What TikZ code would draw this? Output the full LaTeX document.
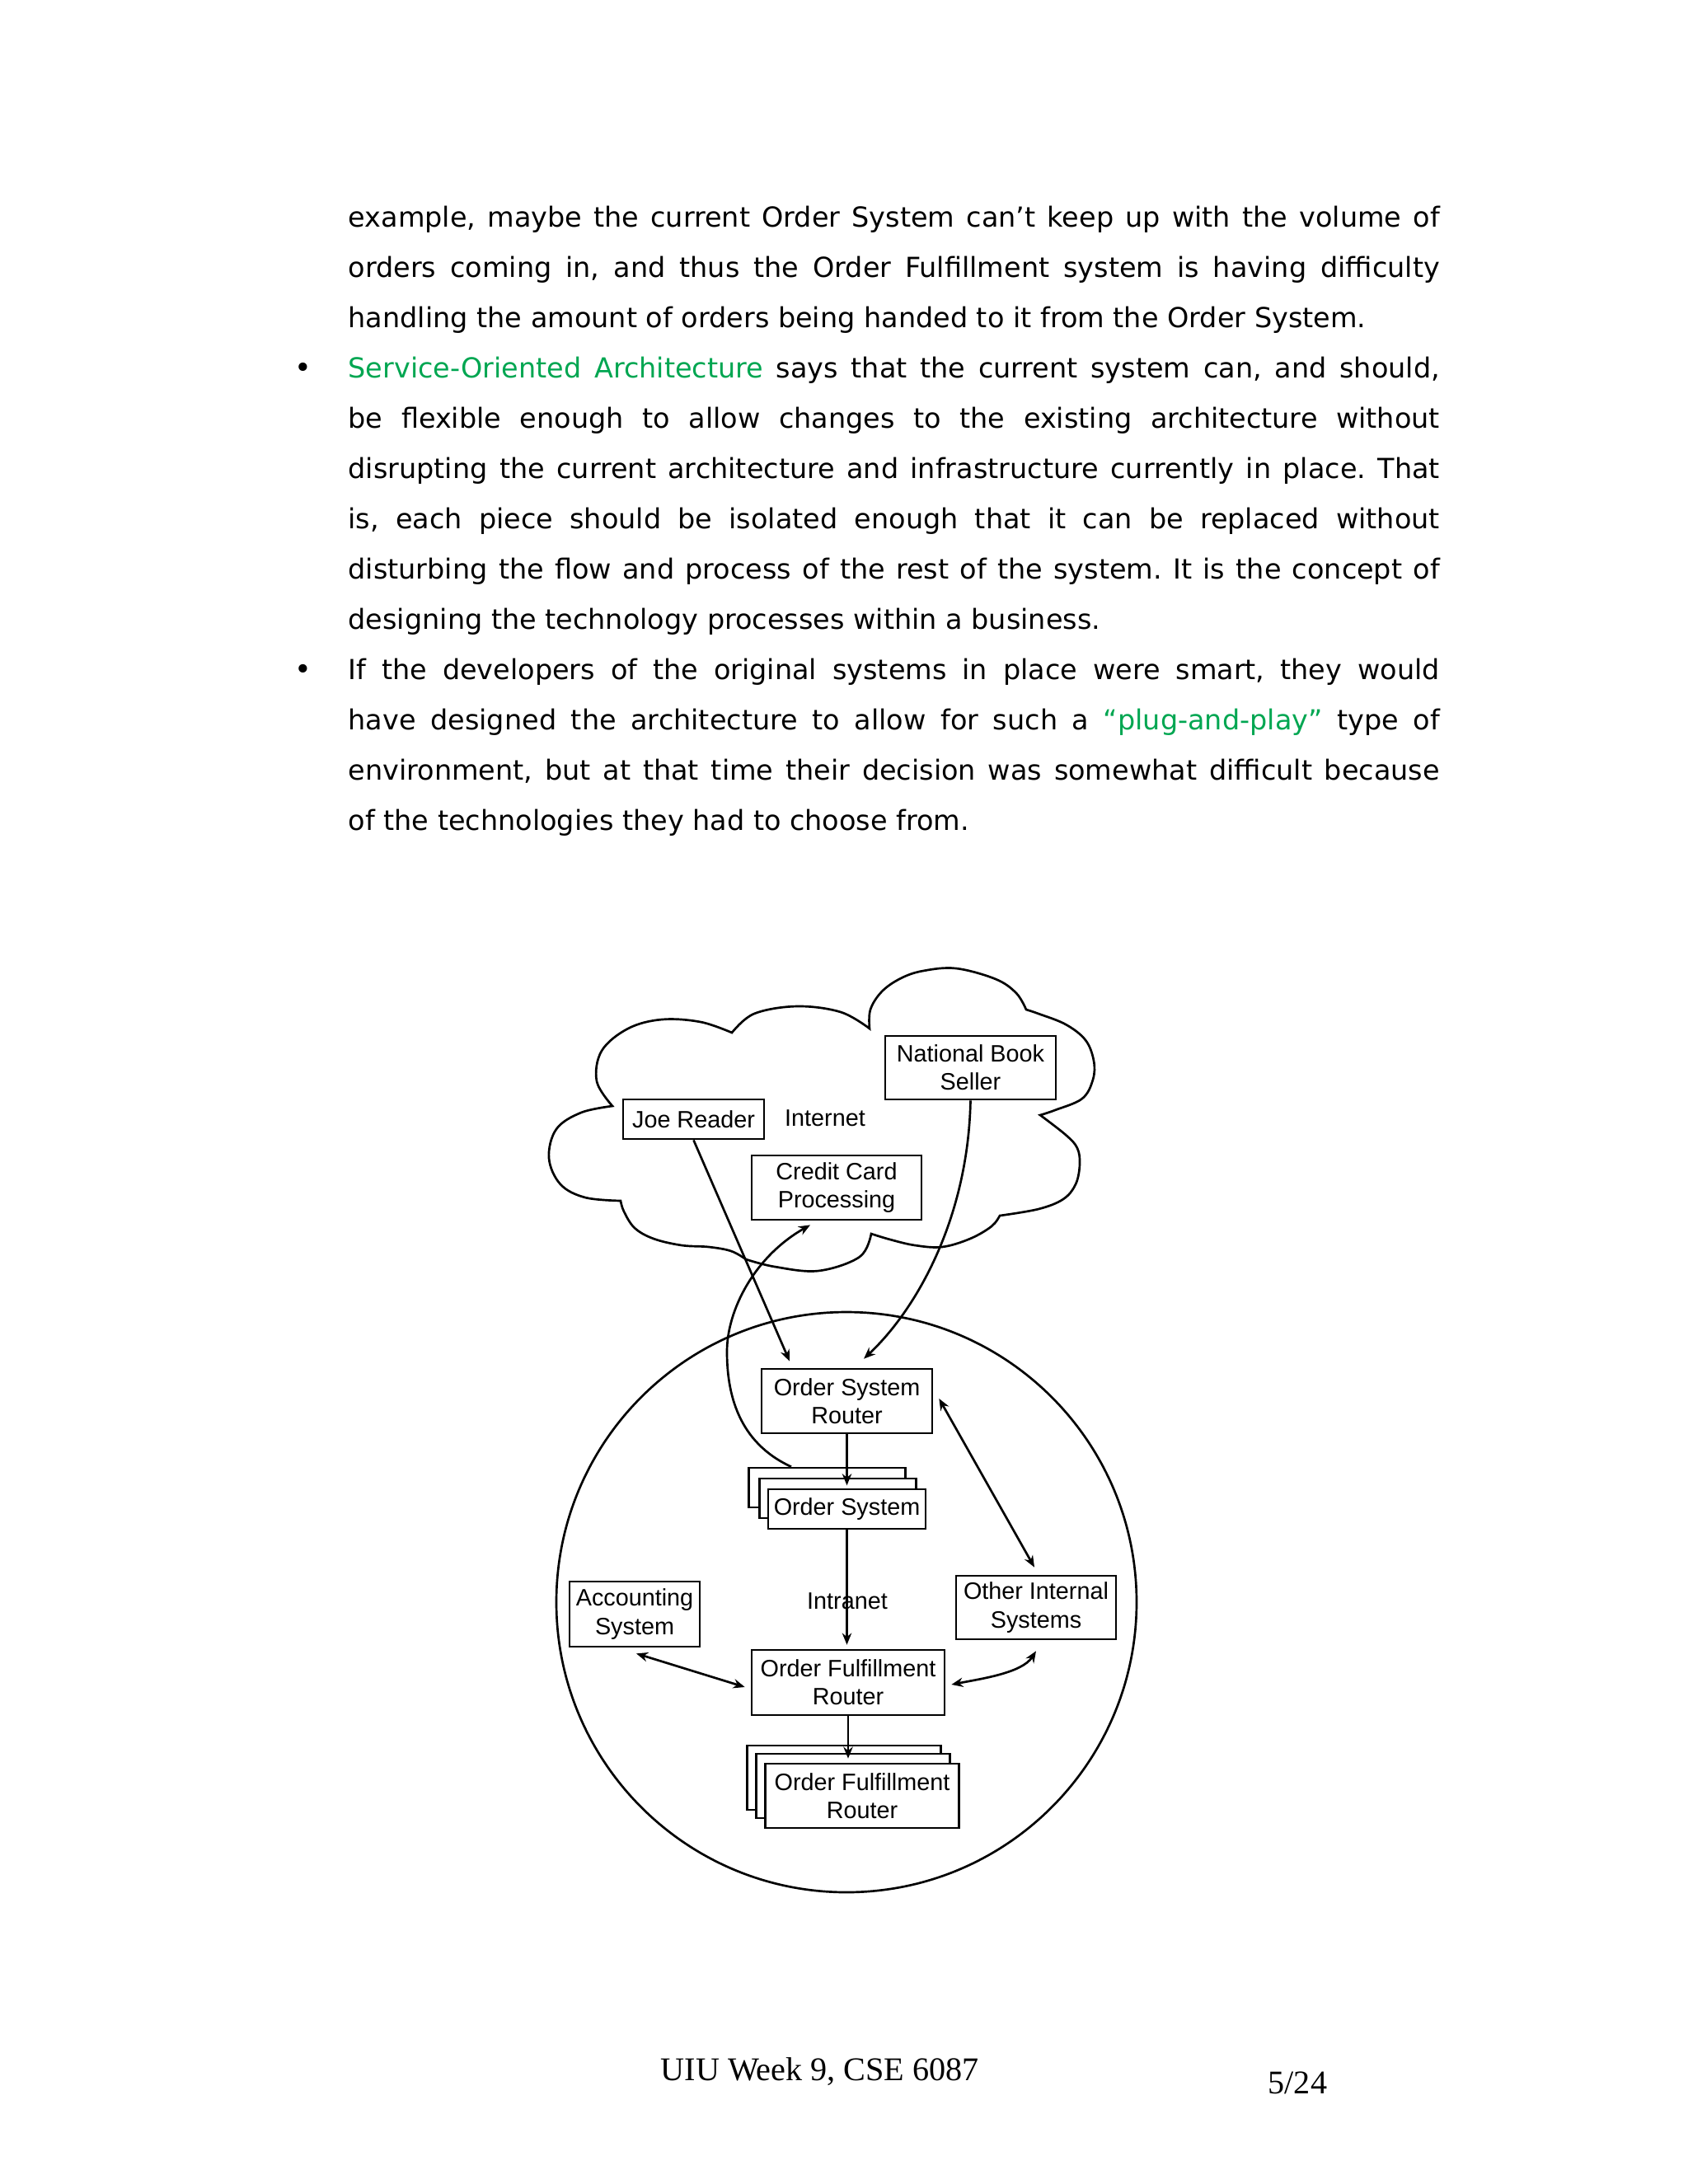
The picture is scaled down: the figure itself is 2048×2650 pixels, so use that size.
\documentclass[tikz,border=0pt]{standalone}
\usepackage{fontspec}
\usepackage{graphicx}
\usetikzlibrary{arrows.meta,calc}
\newfontfamily\bodyfont{DejaVu Sans}
\newfontfamily\diagfont{Liberation Sans}
\newfontfamily\footfont{Liberation Serif}
\definecolor{soagreen}{RGB}{0,166,81}
\frenchspacing
\newlength\jw \setlength\jw{395.7pt}
\newsavebox\jbox
\newcommand\jline[1]{\sbox\jbox{#1}\ifdim\wd\jbox>\jw\resizebox{\jw}{!}{\usebox\jbox}\else\makebox[\jw][s]{#1}\fi}
\begin{document}
\begin{tikzpicture}[x=0.29883pt,y=-0.29883pt,
  bodytxt/.style={anchor=base west,inner sep=0pt,font=\bodyfont\fontsize{10}{12}\selectfont},
  bullettxt/.style={anchor=base,inner sep=0pt,font=\bodyfont\fontsize{10.5}{12}\selectfont},
  foottxt/.style={anchor=base west,inner sep=0pt,font=\footfont\fontsize{12}{14}\selectfont},
  dline/.style={line width=0.8pt,black},
  box/.style={draw,line width=0.8pt,fill=white,inner sep=0pt,align=center,
    font=\diagfont\fontsize{8.6}{10.2}\selectfont},
  lbl/.style={inner sep=0pt,font=\diagfont\fontsize{8.6}{10.2}\selectfont},
  arr/.style={dline,-{Stealth[length=4.2pt,width=3.4pt]}},
  darr/.style={dline,{Stealth[length=4.2pt,width=3.4pt]}-{Stealth[length=4.2pt,width=3.4pt]}}]
\useasboundingbox (0,0) rectangle (2048,2650);
% ---------------- body text ----------------
\node[bodytxt] (l1) at (422,275) {\jline{example, maybe the current Order System can’t keep up with the volume of}};
\node[bodytxt] (l2) at (422,336) {\jline{orders coming in, and thus the Order Fulfillment system is having difficulty}};
\node[bodytxt] (l3) at (422,397) {handling the amount of orders being handed to it from the Order System.};
\node[bullettxt] (b1) at (368,458) {•};
\node[bodytxt] (l4) at (422,458) {\jline{\textcolor{soagreen}{Service-Oriented Architecture} says that the current system can, and should,}};
\node[bodytxt] (l5) at (422,519) {\jline{be flexible enough to allow changes to the existing architecture without}};
\node[bodytxt] (l6) at (422,580) {\jline{disrupting the current architecture and infrastructure currently in place. That}};
\node[bodytxt] (l7) at (422,641) {\jline{is, each piece should be isolated enough that it can be replaced without}};
\node[bodytxt] (l8) at (422,702) {\jline{disturbing the flow and process of the rest of the system. It is the concept of}};
\node[bodytxt] (l9) at (422,763) {designing the technology processes within a business.};
\node[bullettxt] (b2) at (368,824) {•};
\node[bodytxt] (l10) at (422,824) {\jline{If the developers of the original systems in place were smart, they would}};
\node[bodytxt] (l11) at (422,885) {\jline{have designed the architecture to allow for such a \textcolor{soagreen}{“plug-and-play”} type of}};
\node[bodytxt] (l12) at (422,946) {\jline{environment, but at that time their decision was somewhat difficult because}};
\node[bodytxt] (l13) at (422,1007) {of the technologies they had to choose from.};
% ---------------- cloud ----------------
\draw[dline] plot[smooth,tension=0.6] coordinates {(743,1342) (724,1312) (730,1275) (762,1248) (803,1237) (850,1240) (888,1253)}
 -- plot[smooth,tension=0.6] coordinates {(888,1253) (915,1230) (967,1221) (1020,1228) (1055,1248)}
 -- plot[smooth,tension=0.6] coordinates {(1055,1248) (1056,1225) (1070,1203) (1093,1187) (1120,1178) (1160,1175) (1208,1188) (1233,1205) (1245,1225)}
 -- plot[smooth,tension=0.6] coordinates {(1245,1225) (1260,1230) (1293,1243) (1317,1262) (1327,1287) (1326,1310) (1313,1333) (1280,1347) (1262,1353)}
 -- plot[smooth,tension=0.6] coordinates {(1262,1353) (1293,1377) (1307,1393) (1310,1413) (1305,1437) (1290,1455) (1260,1467) (1213,1475)}
 -- plot[smooth,tension=0.6] coordinates {(1213,1475) (1203,1488) (1177,1503) (1143,1513) (1110,1511) (1080,1504) (1057,1497)}
 -- plot[smooth,tension=0.6] coordinates {(1057,1497) (1043,1525) (993,1542) (940,1537) (905,1528)}
 -- plot[smooth,tension=0.6] coordinates {(905,1528) (887,1518) (860,1513) (827,1511) (793,1503) (770,1490) (757,1470) (753,1457)}
 -- plot[smooth,tension=0.6] coordinates {(753,1457) (710,1453) (680,1437) (666,1405) (675,1370) (705,1350) (743,1342)} -- cycle;
% ---------------- intranet circle ----------------
\draw[dline] (1027,1944) circle[radius=352];
% ---------------- boxes ----------------
\node[box,minimum width=51.1pt,minimum height=14.34pt] (jr) at (841.5,1358) {Joe Reader};
\node[lbl] (internet) at (1001,1357) {Internet};
\node[box,minimum width=61.86pt,minimum height=23.01pt] (nbs) at (1177.5,1295.5) {National Book\\Seller};
\node[box,minimum width=61.56pt,minimum height=23.31pt] (ccp) at (1015,1441) {Credit Card\\Processing};
\node[box,minimum width=61.86pt,minimum height=23.31pt] (osr) at (1027.5,1700) {Order System\\Router};
\node[box,minimum width=56.78pt,minimum height=14.34pt] (osA) at (1003.5,1805) {};
\node[box,minimum width=56.78pt,minimum height=14.34pt] (osB) at (1016.5,1818) {};
\node[box,minimum width=57.1pt,minimum height=14.34pt] (osC) at (1027.5,1831) {Order System};
\node[box,minimum width=47.21pt,minimum height=23.61pt] (acc) at (770,1958.5) {Accounting\\System};
\node[lbl] (intranet) at (1028,1943) {Intranet};
\node[box,minimum width=57.97pt,minimum height=23.01pt] (ois) at (1257,1950.5) {Other Internal\\Systems};
\node[box,minimum width=69.93pt,minimum height=23.61pt] (ofr) at (1029,2041.5) {Order Fulfillment\\Router};
\node[box,minimum width=70.22pt,minimum height=23.31pt] (ofA) at (1024,2157) {};
\node[box,minimum width=70.22pt,minimum height=23.31pt] (ofB) at (1035,2167) {};
\node[box,minimum width=70.22pt,minimum height=23.31pt] (ofC) at (1046,2179) {Order Fulfillment\\Router};
% ---------------- connectors ----------------
\draw[arr] (jr.south) -- ($(osr.north)+(-69.5,-8)$);
\draw[arr] (nbs.south) .. controls ($(nbs.south)+(-3,145)$) and ($(nbs.south)+(-67,255)$) .. ($(osr.north)+(20.5,-11)$);
\coordinate (ccpmid) at (882,1640);
\draw[arr] ($(osA.north)+(-43.5,0)$) .. controls (895,1750) and (882,1690) .. (ccpmid)
   .. controls (882,1590) and (915,1525) .. ($(ccp.south)+(-32,5)$);
\draw[arr,shorten >=1pt] (osr.south) -- (osr.south |- osC.north);
\draw[arr,shorten >=1.5pt] (osC.south) -- (osC.south |- ofr.north);
\draw[darr] ($(osr.east)+(7,-3)$) -- ($(ois.north)+(-2,-9)$);
\draw[darr] ($(acc.south)+(2,7)$) -- ($(ofr.west)+(-7,5.5)$);
\draw[darr] ($(ofr.east)+(7,2.5)$) .. controls (1190,2037) and (1240,2030) .. ($(ois.south)+(0,13)$);
\draw[arr,shorten >=1.5pt] (ofr.south) -- (ofr.south |- ofC.north);
% ---------------- footer ----------------
\node[foottxt] (foot) at (801,2524) {UIU Week 9, CSE 6087};
\node[foottxt] (page) at (1538,2540) {5/24};
\end{tikzpicture}
\end{document}
